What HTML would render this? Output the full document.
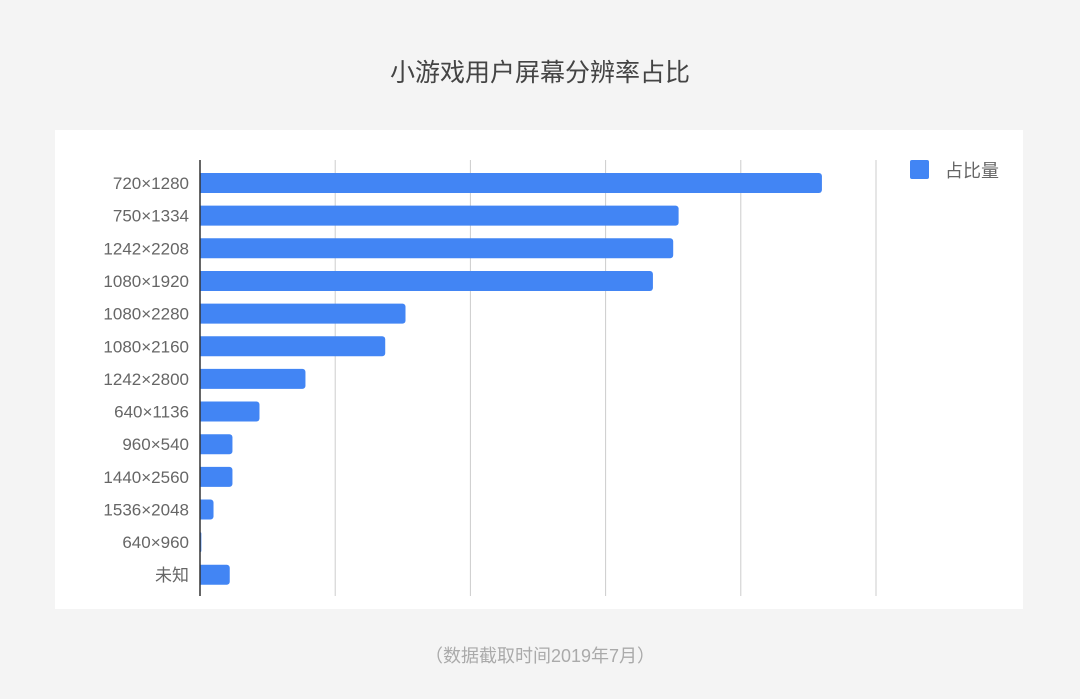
<!DOCTYPE html>
<html><head><meta charset="utf-8"><style>
body{margin:0;width:1080px;height:694px;background:#f4f4f4;font-family:"Liberation Sans","Noto Sans CJK SC",sans-serif;overflow:hidden}
</style></head><body>
<svg width="1080" height="694" xmlns="http://www.w3.org/2000/svg" id="chart">
<text x="540" y="81" text-anchor="middle" font-size="25" fill="#444" font-family="Liberation Sans, Noto Sans CJK SC, sans-serif">小游戏用户屏幕分辨率占比</text>
<rect x="55" y="130" width="968" height="479" fill="#ffffff"/>
<g id="grid"></g>
<g id="bars"></g>
<line x1="200" y1="160" x2="200" y2="596" stroke="#333" stroke-width="1.5"/>
<g>
<rect x="910" y="160" width="19" height="19" rx="2" fill="#4285f4"/>
<text x="945" y="177" font-size="18" fill="#666" font-family="Liberation Sans, Noto Sans CJK SC, sans-serif">占比量</text>
</g>
<text x="540" y="662" text-anchor="middle" font-size="18" fill="#aaa" font-family="Liberation Sans, Noto Sans CJK SC, sans-serif">（数据截取时间2019年7月）</text>
</svg>
<script>
const categories=["720×1280","750×1334","1242×2208","1080×1920","1080×2280","1080×2160","1242×2800","640×1136","960×540","1440×2560","1536×2048","640×960","未知"];
const values=[23.0,17.7,17.5,16.75,7.6,6.85,3.9,2.2,1.2,1.2,0.5,0.05,1.1];
const gridTicks=[5,10,15,20,25];
const NS="http://www.w3.org/2000/svg";
const x0=200,pxPer=135.2/5,rowTop=167,step=32.65,barH=20;
const xs=v=>x0+v*pxPer;
const ys=i=>rowTop+i*step;
const grid=document.getElementById('grid'),bars=document.getElementById('bars');
gridTicks.forEach(t=>{
const l=document.createElementNS(NS,'line');


l.setAttribute('x1',xs(t));l.setAttribute('x2',xs(t));l.setAttribute('y1',160);l.setAttribute('y2',596);
l.setAttribute('stroke','#ccc');l.setAttribute('stroke-width','1');
grid.appendChild(l);
});
categories.forEach((c,i)=>{
const y=ys(i);
const w=Math.max(xs(values[i])-x0,1);
const p=document.createElementNS(NS,'path');


const r=Math.min(3,w);
p.setAttribute('d',`M${x0},${y+6} h${w-r} a${r},${r} 0 0 1 ${r},${r} v${barH-2*r} a${r},${r} 0 0 1 -${r},${r} h-${w-r} z`);
p.setAttribute('fill','#4285f4');
bars.appendChild(p);
const t=document.createElementNS(NS,'text');


t.setAttribute('x',189);t.setAttribute('y',y+6+barH/2+6);
t.setAttribute('text-anchor','end');t.setAttribute('font-size','17');t.setAttribute('fill','#666');
t.setAttribute('font-family','Liberation Sans, Noto Sans CJK SC, sans-serif');
t.textContent=c;
bars.appendChild(t);
});
</script>
</body></html>
